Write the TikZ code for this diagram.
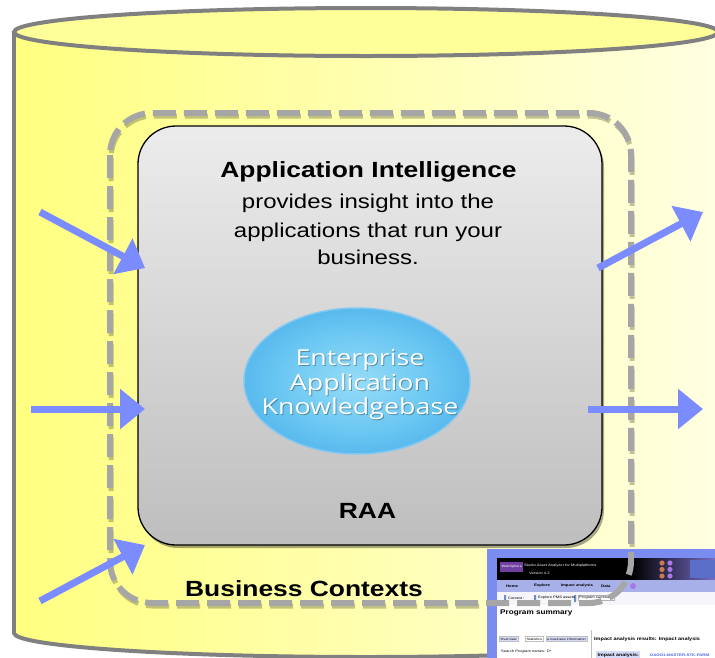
\documentclass[tikz,border=0pt]{standalone}
\usepackage{fontspec}
\setmainfont{Liberation Sans}
\newfontfamily\arialw[FakeStretch=1.2]{Liberation Sans}
\newfontfamily\segw[FakeStretch=1.22]{Open Sans}
\usetikzlibrary{arrows.meta,shapes.geometric}
\definecolor{cylgray}{RGB}{128,128,128}
\definecolor{cylL}{RGB}{255,255,128}
\definecolor{cylR}{RGB}{255,255,226}
\definecolor{cyltop}{RGB}{255,255,153}
\definecolor{dashgray}{RGB}{166,166,166}
\definecolor{dashshad}{RGB}{120,120,70}
\definecolor{boxtop}{RGB}{236,236,236}
\definecolor{boxbot}{RGB}{190,190,190}
\definecolor{arrowblue}{RGB}{122,140,255}
\definecolor{frameblue}{RGB}{122,140,240}
\definecolor{navblue}{RGB}{168,176,234}
\definecolor{tabblue}{RGB}{214,220,248}
\definecolor{wsp}{RGB}{112,64,160}
\definecolor{linkblue}{RGB}{70,100,230}
\definecolor{hdrR}{RGB}{120,110,200}
\definecolor{dotO}{RGB}{200,120,80}
\definecolor{dotP}{RGB}{170,120,230}
\definecolor{hdrB}{RGB}{90,110,200}
\definecolor{rowgray}{RGB}{245,245,250}
\definecolor{iconblue}{RGB}{110,140,200}
\definecolor{eakrim}{RGB}{130,200,242}
\definecolor{eakA}{RGB}{150,220,248}
\definecolor{eakB}{RGB}{105,198,242}
\definecolor{eakC}{RGB}{58,162,228}
\definecolor{eakD}{RGB}{40,140,215}
\definecolor{eakE}{RGB}{100,180,235}
\pgfdeclareradialshading{eakshade}{\pgfpoint{0bp}{0bp}}{color(0bp)=(eakA); color(18bp)=(eakB); color(38bp)=(eakC); color(46bp)=(eakD); color(50bp)=(eakE)}
\tikzset{
  cylline/.style={draw=cylgray, line width=4pt},
  dashbox/.style={draw=dashgray, line width=6pt, rounded corners=42pt, dash pattern=on 23pt off 8pt},
  dashshadow/.style={draw=dashshad, opacity=.45, line width=5pt, rounded corners=42pt, dash pattern=on 23pt off 8pt},
  bluearrow/.style={draw=arrowblue, line width=7pt, -{Triangle[length=25pt,width=39pt]}},
  bigtitle/.style={font=\arialw\bfseries\fontsize{22}{26}\selectfont, inner sep=0pt, anchor=base},
  bodyline/.style={font=\arialw\fontsize{20}{24}\selectfont, inner sep=0pt, anchor=base},
  eakline/.style={font=\segw\fontsize{22}{24}\selectfont, text=white, inner sep=0pt, anchor=base},
  tiny/.style={font=\arialw\fontsize{3.4}{4}\selectfont, inner sep=0pt, anchor=west},
  tinyb/.style={font=\arialw\bfseries\fontsize{3.6}{4}\selectfont, inner sep=0pt, anchor=west}
}
\begin{document}
\begin{tikzpicture}[x=1pt,y=-1pt]
\useasboundingbox (0,0) rectangle (715,657);
\clip (0,0) rectangle (715,657);
% cylinder
\shade[left color=cylL, right color=cylR] (14,32) rectangle (718,633);
\shade[left color=cylL, right color=cylR] (366,633) ellipse [x radius=352, y radius=24];
\draw[cylline] (14,32) -- (14,633);
\draw[cylline] (718,32) -- (718,633);
\begin{scope}
  \clip (0,633) rectangle (730,700);
  \draw[cylline] (366,633) ellipse [x radius=352, y radius=24];
\end{scope}
\draw[cylline, fill=cyltop] (366,32) ellipse [x radius=352, y radius=24];
% dashed shadow
\draw[dashshadow, xshift=1pt, yshift=-3pt] (110,113) rectangle (631,603);
% inner box
\fill[black, opacity=.35, rounded corners=38pt, xshift=2pt, yshift=-3pt] (138,126) rectangle (602,545);
\node[draw=black, line width=1.3pt, rounded corners=38pt, top color=boxtop, bottom color=boxbot,
      minimum width=464pt, minimum height=419pt, inner sep=0pt] (appbox) at (370,335.5) {};
\node[bigtitle] (title) at (368.5,177) {Application Intelligence};
\node[bodyline] (body1) at (368,208) {provides insight into the};
\node[bodyline] (body2) at (368,237) {applications that run your};
\node[bodyline] (body3) at (368,264) {business.};
% knowledgebase ellipse
\node[ellipse, minimum width=226pt, minimum height=146pt, inner sep=0pt, shade, shading=eakshade,
      draw=eakrim, line width=1.5pt] (eak) at (357,381) {};
\node[eakline, text=black, opacity=.3] (eak1s) at (361,366) {Enterprise};
\node[eakline, text=black, opacity=.3] (eak2s) at (361,391) {Application};
\node[eakline, text=black, opacity=.3] (eak3s) at (361,415) {Knowledgebase};
\node[eakline] (eak1) at (360,365) {Enterprise};
\node[eakline] (eak2) at (360,390) {Application};
\node[eakline] (eak3) at (360,414) {Knowledgebase};
\node[bigtitle] (raa) at (367.5,518) {RAA};
\node[bigtitle] (bctx) at (304,596) {Business Contexts};
% screenshot inset
\fill[frameblue] (487,549) rectangle (716,658);
\fill[white] (497,558) rectangle (716,658);
\fill[black] (497,558) rectangle (716,580);
\shade[left color=black, right color=hdrR] (632,558) rectangle (716,580);
\fill[dotO] (662,563) circle (2.6) (662,569.5) circle (2.6) (662,576) circle (2.6);
\fill[dotP] (670,563) circle (2.6) (670,569.5) circle (2.6) (670,576) circle (2.6);
\fill[hdrB] (690,560) rectangle (716,578);
\node[fill=wsp, text=white, font=\arialw\fontsize{3.2}{4}\selectfont, inner sep=1.5pt, anchor=west, minimum height=10pt] (ws) at (500,567) {WebSphere};
\node[tiny, text=white] (sa) at (524,566) {Studio Asset Analyzer for Multiplatforms};
\node[tiny, text=white] (ver) at (529,573) {Version 4.2};
\fill[navblue] (497,580) rectangle (716,592);
\node[tinyb, anchor=center] (nhome) at (512,586) {Home};
\node[tinyb, anchor=center] (nexp) at (542,586) {Explore};
\node[tinyb, anchor=center] (nimp) at (577,586) {Impact analysis};
\node[tinyb] (ndat) at (601,586) {Data};
\fill[dotP] (633,586) circle (3);
\fill[rowgray] (497,592) rectangle (716,605);
\fill[iconblue] (504,595) rectangle (506,602) (534,595) rectangle (536,602) (574,595) rectangle (576,602);
\node[tiny] (ctx) at (508,598) {Context :};
\node[tiny] (pms) at (538,598) {Explore PMS assets};
\node[draw=gray!60, fill=white, font=\arialw\fontsize{3.4}{4}\selectfont, inner sep=1pt, anchor=west] (psum) at (578,598) {Program summary};
\node[font=\arialw\bfseries\fontsize{6.8}{8}\selectfont, inner sep=0pt, anchor=west] (progsum) at (500,613) {Program summary};
\draw[gray!50, line width=.6pt] (591,630) -- (591,658);
\node[draw=gray!50, fill=tabblue, font=\arialw\fontsize{3.2}{4}\selectfont, inner sep=1.5pt, anchor=west] (tov) at (499,639) {Overview};
\node[draw=gray!50, fill=white, font=\arialw\fontsize{3.2}{4}\selectfont, inner sep=1.5pt, anchor=west] (tst) at (525,639) {Statistics};
\node[draw=gray!50, fill=tabblue, font=\arialw\fontsize{3.2}{4}\selectfont, inner sep=1.5pt, anchor=west] (teb) at (545.5,639) {e-business information};
\node[tiny] (srch) at (501,652) {Search Program names: D*};
\node[font=\arialw\bfseries\fontsize{4.6}{5}\selectfont, inner sep=0pt, anchor=west] (iar) at (594,639) {Impact analysis results: Impact analysis};
\node[fill=tabblue, font=\arialw\bfseries\fontsize{4.4}{5}\selectfont, inner sep=1.5pt, anchor=west] (ia) at (596,655) {Impact analysis:};
\node[font=\arialw\bfseries\fontsize{3.6}{4}\selectfont, text=linkblue, inner sep=0pt, anchor=west] (dao) at (650,655) {DAOO1:MASTER-STK-PARM};
% dashed business context border
\draw[dashbox] (110,113) rectangle (631,603);
% arrows
\coordinate (l1s) at (40,212);  \coordinate (l1e) at (145,268);
\coordinate (l2s) at (31,409);  \coordinate (l2e) at (145,409);
\coordinate (l3s) at (40,601);  \coordinate (l3e) at (145,545);
\coordinate (r1s) at (598,268); \coordinate (r1e) at (703,212);
\coordinate (r2s) at (588,409); \coordinate (r2e) at (703,409);
\draw[bluearrow] (l1s) -- (l1e);
\draw[bluearrow] (l2s) -- (l2e);
\draw[bluearrow] (l3s) -- (l3e);
\draw[bluearrow] (r1s) -- (r1e);
\draw[bluearrow] (r2s) -- (r2e);
\end{tikzpicture}
\end{document}
